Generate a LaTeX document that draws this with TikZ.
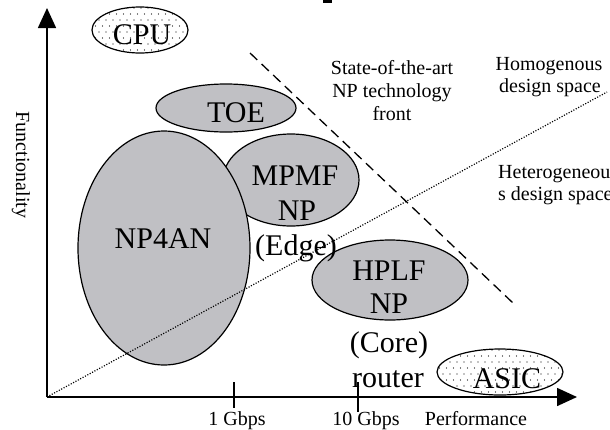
\documentclass[tikz,border=0pt]{standalone}
\usepackage{fontspec}
\setmainfont{Liberation Serif}
\usetikzlibrary{arrows.meta}
\definecolor{npgray}{RGB}{192,192,196}
\begin{document}
\begin{tikzpicture}[x=1pt,y=-1pt,
  region/.style={draw=black,line width=1.2pt,fill=npgray},
  axis/.style={line width=1.6pt,-{Triangle[length=20pt,width=18pt]}},
  tickmark/.style={line width=1.2pt},
  big/.style={font=\fontsize{30}{36}\selectfont,inner sep=0pt},
  small/.style={font=\fontsize{20}{23}\selectfont,inner sep=0pt,align=center},
  front/.style={line width=1.3pt,dash pattern=on 10pt off 6pt},
  divide/.style={line width=1.2pt,dash pattern=on 1.1pt off 1.6pt}]
\useasboundingbox (0,0) rectangle (610,429);
\clip (0,0) rectangle (610,429);

% clipped glyph of a heading above the chart
\fill (323,0) rectangle (332,3);

% dotted chip regions (general purpose CPU, ASIC)
\fill[white] (140,30) ellipse [x radius=48pt, y radius=23pt];
\begin{scope}
  \clip (140,30) ellipse [x radius=48pt, y radius=23pt];
  \foreach \r in {0,...,8}
    \foreach \c in {0,...,14}
      \fill ({92+\c*7+mod(\r,2)*3.5},{8+\r*6}) circle (0.7pt);
\end{scope}
\draw[line width=1.2pt] (140,30) ellipse [x radius=48pt, y radius=23pt];

\fill[white] (500,372) ellipse [x radius=63pt, y radius=23pt];
\begin{scope}
  \clip (500,372) ellipse [x radius=63pt, y radius=23pt];
  \foreach \r in {0,...,8}
    \foreach \c in {0,...,19}
      \fill ({436+\c*7+mod(\r,2)*3.5},{350+\r*6}) circle (0.7pt);
\end{scope}
\draw[line width=1.2pt] (500,372) ellipse [x radius=63pt, y radius=23pt];

% network processor classes
\draw[region] (226,108) ellipse [x radius=70pt, y radius=24pt];
\draw[region] (291,180) ellipse [x radius=68pt, y radius=46pt];
\draw[region] (164,248) ellipse [x radius=86pt, y radius=117pt];
\draw[region] (390,280) ellipse [x radius=78pt, y radius=40pt];

% axes
\coordinate (origin) at (47,397);
\coordinate (ytip) at (47,8);
\coordinate (xtip) at (577,397);
\draw[axis] (origin) -- (ytip);
\draw[axis] (origin) -- (xtip);

% technology front and design-space divide
\coordinate (frontA) at (250,53);
\coordinate (frontB) at (513,303);
\draw[front] (frontA) -- (frontB);
\coordinate (divEnd) at (607,92);
\draw[divide] (origin) -- (divEnd);

% ticks
\coordinate (t1a) at (234,382);
\coordinate (t1b) at (234,408);
\coordinate (t2a) at (358,382);
\coordinate (t2b) at (358,412);
\draw[tickmark] (t1a) -- (t1b);
\draw[tickmark] (t2a) -- (t2b);

% labels
\node[big,anchor=base] (cpu) at (142,44) {CPU};
\node[big,anchor=base] (toe) at (236,122) {TOE};
\node[big,anchor=base] (np4an) at (163,248) {NP4AN};
\node[big,anchor=base] (mpmf) at (295,185) {MPMF};
\node[big,anchor=base] (mpmfnp) at (297,220) {NP};
\node[big,anchor=base] (edge) at (296,255) {(Edge)};
\node[big,anchor=base] (hplf) at (389,280) {HPLF};
\node[big,anchor=base] (hplfnp) at (389,313) {NP};
\node[big,anchor=base] (core) at (389,352) {(Core)};
\node[big,anchor=base] (router) at (388,387) {router};
\node[big,anchor=base] (asic) at (507,388) {ASIC};

\node[small,anchor=base] (sota1) at (392,74) {State-of-the-art};
\node[small,anchor=base] (sota2) at (392,97) {NP technology};
\node[small,anchor=base] (sota3) at (392,120) {front};
\node[small,anchor=base] (homo1) at (549,70) {Homogenous};
\node[small,anchor=base] (homo2) at (550,92) {design space};
\node[small,anchor=base west] (hetero1) at (498,178) {Heterogeneou};
\node[small,anchor=base west] (hetero2) at (498,200) {s design space};

\node[small,anchor=base] (g1) at (237,425) {1 Gbps};
\node[small,anchor=base] (g10) at (366,425) {10 Gbps};
\node[small,anchor=base] (perf) at (476,425) {Performance};
\node[small,rotate=-90] (func) at (21,165) {Functionality};
\end{tikzpicture}
\end{document}
